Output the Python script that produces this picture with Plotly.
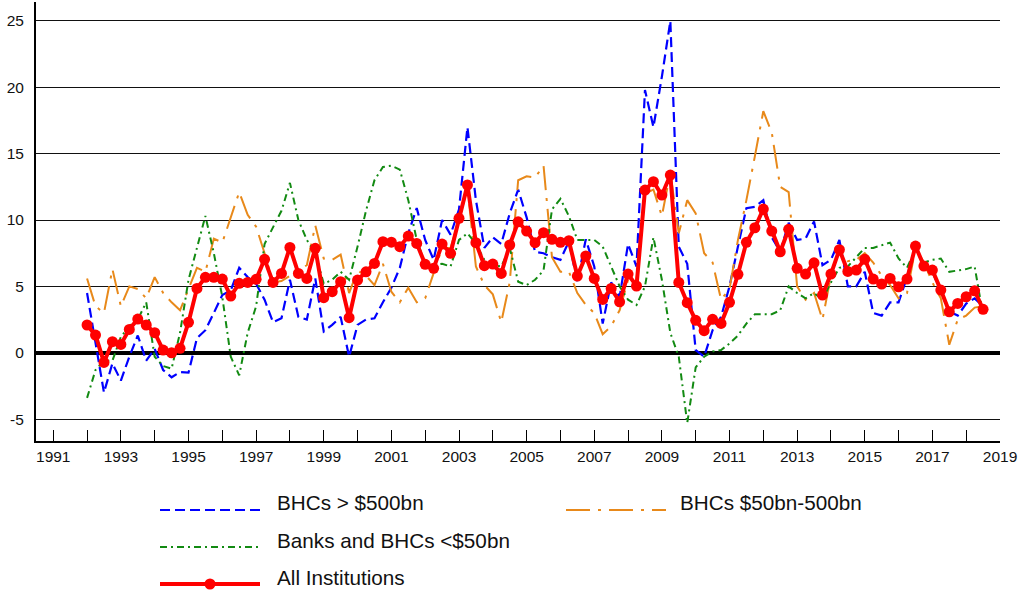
import plotly.graph_objects as go

# ---------------- data (quarterly, 1992Q1 .. 2018Q3) ----------------
start_year = 1992
all_inst = [2.09, 1.33, -0.73, 0.83,
            0.63, 1.76, 2.54, 2.09,
            1.51, 0.20, 0.00, 0.33,
            2.29, 4.85, 5.68, 5.68,
            5.55, 4.27, 5.23, 5.30,
            5.53, 7.04, 5.30, 5.98,
            7.94, 5.98, 5.60, 7.87,
            4.15, 4.60, 5.35, 2.64,
            5.48, 6.10, 6.73, 8.37,
            8.33, 7.99, 8.79, 8.24,
            6.66, 6.36, 8.19, 7.49,
            10.13, 12.64, 8.29, 6.56,
            6.68, 5.98, 8.12, 9.87,
            9.17, 8.29, 9.05, 8.55,
            8.32, 8.44, 5.78, 7.29,
            5.60, 4.02, 4.85, 3.84,
            5.93, 5.03, 12.26, 12.89,
            11.88, 13.39, 5.30, 3.77,
            2.44, 1.66, 2.52, 2.21,
            3.80, 5.91, 8.32, 9.42,
            10.83, 9.17, 7.61, 9.30,
            6.36, 5.93, 6.78, 4.35,
            5.93, 7.77, 6.13, 6.23,
            7.04, 5.55, 5.18, 5.60,
            4.97, 5.55, 8.04, 6.53,
            6.23, 4.72, 3.09, 3.72,
            4.22, 4.67, 3.27]

bhc_large = [4.5, 0.8, -3.0, -0.8,
             -2.1, -0.3, 1.3, -0.6,
             0.3, -1.3, -1.85, -1.45,
             -1.5, 1.1, 1.7, 3.0,
             4.35, 4.7, 6.4, 5.7,
             5.2, 4.0, 2.3, 2.6,
             5.5, 2.7, 2.5, 5.6,
             1.6, 2.1, 2.7, -0.3,
             2.1, 2.5, 2.6, 3.8,
             4.9, 6.4, 9.0, 10.9,
             8.5, 7.0, 10.0, 8.9,
             10.8, 17.0, 11.5, 7.9,
             8.7, 8.2, 10.5, 12.3,
             10.2, 7.6, 7.5, 7.2,
             7.0, 8.4, 5.35, 8.55,
             6.5, 2.2, 5.3, 4.2,
             8.2, 6.5, 19.8, 17.0,
             20.8, 25.0, 8.0, 6.7,
             0.2, -0.3, 1.7, 2.7,
             5.0, 8.0, 10.9, 11.0,
             11.5, 8.7, 7.6, 9.8,
             8.5, 8.6, 9.9, 6.6,
             7.0, 8.5, 5.0, 5.0,
             6.1, 3.0, 2.8, 3.8,
             3.8, 5.7, 8.0, 6.7,
             6.1, 4.6, 3.1, 2.8,
             3.7, 4.1, 3.5]

bhc_mid = [5.6, 3.5, 3.0, 6.3,
           3.5, 5.0, 4.8, 4.1,
           5.7, 4.5, 3.8, 3.2,
           4.8, 6.4, 6.1, 8.6,
           8.3, 10.2, 12.1, 10.4,
           9.5, 7.5, 5.3, 5.4,
           5.8, 6.2, 6.6, 9.6,
           7.1, 7.0, 7.4, 4.5,
           6.2, 5.8, 5.1, 6.7,
           4.6, 3.8, 4.9, 3.8,
           4.1, 6.0, 7.9, 7.9,
           10.0, 12.4, 6.5, 5.1,
           4.4, 2.3, 5.3, 13.0,
           13.3, 13.2, 14.1, 7.2,
           6.1, 6.1, 4.5, 3.6,
           3.0, 1.4, 2.0, 3.2,
           5.5, 5.5, 12.0, 12.3,
           10.3, 13.6, 9.0, 11.5,
           10.5, 7.5, 6.8, 4.0,
           4.8, 8.5, 11.5, 14.8,
           18.2, 16.6, 12.5, 12.1,
           5.0, 4.0, 4.5, 2.5,
           5.8, 7.9, 6.9, 7.0,
           7.5, 6.8, 5.8, 5.1,
           4.1, 4.5, 7.9, 6.8,
           5.3, 4.1, 0.6, 2.5,
           2.8, 3.4, 3.5]

banks_small = [-3.4, -1.3, -0.6, -0.6,
               1.2, 2.0, 2.5, 3.8,
               -0.3, -1.0, -1.2, 1.5,
               5.5, 7.9, 10.3, 7.5,
               4.2, -0.3, -1.7, 1.5,
               3.5, 8.2, 9.5, 10.7,
               12.8, 10.0, 8.5, 7.5,
               5.2, 5.5, 6.1, 5.5,
               8.0, 10.7, 13.0, 14.0,
               14.1, 13.8, 11.5, 8.5,
               6.7, 6.6, 6.7, 6.5,
               8.5, 9.0, 8.2, 7.0,
               6.6, 6.5, 7.9, 5.35,
               5.1, 5.5, 6.2, 10.8,
               11.6, 10.3, 8.5, 8.5,
               8.5, 8.0, 6.5, 5.0,
               4.0, 3.6, 5.0, 8.7,
               5.5, 1.5, -0.3, -5.3,
               -1.1, -0.3, 0.1, 0.2,
               0.7, 1.3, 2.2, 2.9,
               2.9, 2.9, 3.2, 5.0,
               4.5, 4.1, 4.5, 4.0,
               5.3, 6.4, 6.5, 7.2,
               7.9, 7.9, 8.1, 8.3,
               7.1, 6.4, 7.8, 6.8,
               7.0, 7.1, 6.1, 6.2,
               6.3, 6.5, 2.8]

quarters = [start_year + i / 4 for i in range(len(all_inst))]

year_ticks = list(range(1991, 2020))
year_labels = [str(y) if y % 2 == 1 else "" for y in year_ticks]
y_ticks = [-5, 0, 5, 10, 15, 20, 25]
y_labels = ["-5", "0", "5", "10", "15", "20", "25"]

names = ["BHCs > $500bn", "BHCs $50bn-500bn", "Banks and BHCs <$50bn", "All Institutions"]

BLUE = "#0000FF"
ORANGE = "#E8891A"
GREEN = "#128A12"
RED = "#FF0000"
FONT = "Liberation Sans, Arial, sans-serif"

fig = go.Figure()
fig.add_trace(go.Scatter(x=quarters, y=bhc_large, mode="lines", name=names[0],
                         line=dict(color=BLUE, width=2.2, dash="10px,5px")))
fig.add_trace(go.Scatter(x=quarters, y=bhc_mid, mode="lines", name=names[1],
                         line=dict(color=ORANGE, width=2, dash="24px,8px,3px,8px")))
fig.add_trace(go.Scatter(x=quarters, y=banks_small, mode="lines", name=names[2],
                         line=dict(color=GREEN, width=2, dash="7px,4px,2px,4px")))
fig.add_trace(go.Scatter(x=quarters, y=all_inst, mode="lines+markers", name=names[3],
                         line=dict(color=RED, width=4),
                         marker=dict(color=RED, size=11, symbol="circle")))

# ---------------- layout ----------------
L, R, T, B = 36, 19, 2, 153
W, H = 1019, 594
pw, ph = W - L - R, H - T - B


def px(xp):
    return (xp - L) / pw


def py(yp):
    return (H - B - yp) / ph


fig.update_layout(
    width=W, height=H, autosize=False,
    margin=dict(l=L, r=R, t=T, b=B, pad=0),
    paper_bgcolor="white", plot_bgcolor="white",
    showlegend=False,
    font=dict(family=FONT, color="#111", size=15.5),
    xaxis=dict(range=[1990.49, 2019.0], tickvals=year_ticks, ticktext=year_labels,
               ticks="inside", ticklen=11, tickwidth=1, tickcolor="black",
               showline=True, linecolor="black", linewidth=2,
               showgrid=False, zeroline=False, automargin=False,
               tickfont=dict(size=15.5, family=FONT, color="#111")),
    yaxis=dict(range=[-6.65, 26.43], tickvals=y_ticks, ticktext=y_labels,
               ticks="", showline=True, linecolor="black", linewidth=2,
               showgrid=True, gridcolor="#111", gridwidth=1,
               zeroline=True, zerolinecolor="black", zerolinewidth=3.5,
               ticklabelstandoff=7, automargin=False,
               tickfont=dict(size=15.5, family=FONT, color="#111")),
)

# ---------------- manual legend ----------------
legend_items = [
    (names[0], BLUE, "10px,5px", 160, 260, 510, 275, 502, False, 2.2),
    (names[1], ORANGE, "24px,8px,3px,8px", 566, 666, 510, 678, 502, False, 2),
    (names[2], GREEN, "7px,4px,2px,4px", 160, 260, 547, 275, 540, False, 2),
    (names[3], RED, "solid", 160, 260, 584, 275, 577, True, 4),
]
shapes = []
annotations = []
for name, col, dash, x0, x1, ly, tx, ty, mark, w in legend_items:
    shapes.append(dict(type="line", xref="paper", yref="paper",
                       x0=px(x0), x1=px(x1), y0=py(ly), y1=py(ly),
                       line=dict(color=col, width=w, dash=dash)))
    if mark:
        cx, r = (x0 + x1) / 2, 5.5
        shapes.append(dict(type="circle", xref="paper", yref="paper",
                           x0=px(cx - r), x1=px(cx + r), y0=py(ly + r), y1=py(ly - r),
                           fillcolor=col, line=dict(color=col, width=0)))
    annotations.append(dict(xref="paper", yref="paper", x=px(tx), y=py(ty),
                            xanchor="left", yanchor="middle", showarrow=False,
                            text=name, font=dict(size=20.7, family=FONT, color="#111")))

fig.update_layout(shapes=shapes, annotations=annotations)

fig.write_html("out.html", config={"displayModeBar": False},
               post_script="document.body.style.margin='0';document.body.style.padding='0';")
